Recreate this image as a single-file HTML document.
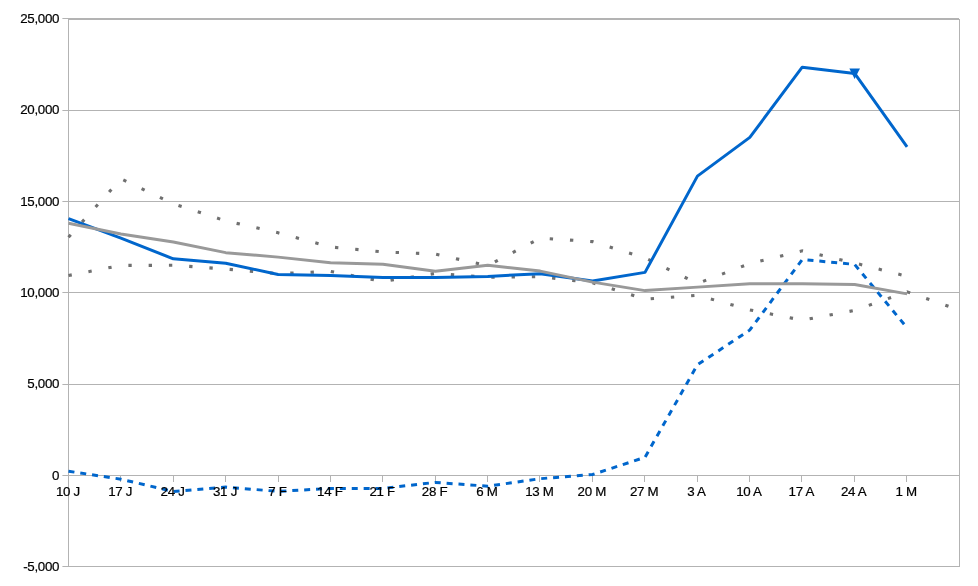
<!DOCTYPE html>
<html lang="en"><head><meta charset="utf-8"><title>Chart</title>
<style>
html,body{margin:0;padding:0;background:#fff;}
body{width:978px;height:586px;overflow:hidden;}
svg{display:block;}
text{font-family:"Liberation Sans",sans-serif;font-size:13.33px;fill:#000;letter-spacing:-0.3px;stroke:#000;stroke-width:0.2px;}
.g{fill:#b3b3b3;shape-rendering:crispEdges;}
</style></head><body>
<svg width="978" height="586" viewBox="0 0 978 586">
<rect width="978" height="586" fill="#fff"/>
<rect class="g" x="68" y="18" width="891" height="1"/>
<rect fill="#b3b3b3" x="62.4" y="18" width="6" height="1"/>
<rect class="g" x="68" y="110" width="892" height="1"/>
<rect fill="#b3b3b3" x="62.4" y="110" width="6" height="1"/>
<rect class="g" x="68" y="201" width="892" height="1"/>
<rect fill="#b3b3b3" x="62.4" y="201" width="6" height="1"/>
<rect class="g" x="68" y="292" width="892" height="1"/>
<rect fill="#b3b3b3" x="62.4" y="292" width="6" height="1"/>
<rect class="g" x="68" y="384" width="892" height="1"/>
<rect fill="#b3b3b3" x="62.4" y="384" width="6" height="1"/>
<rect class="g" x="68" y="475" width="892" height="1"/>
<rect fill="#b3b3b3" x="62.4" y="475" width="6" height="1"/>
<rect class="g" x="68" y="566" width="892" height="1"/>
<rect fill="#b3b3b3" x="62.4" y="566" width="6" height="1"/>
<rect class="g" x="68" y="19" width="892" height="1"/>
<rect class="g" x="959" y="19" width="1" height="548"/>
<rect class="g" x="68" y="18" width="1" height="549"/>
<rect class="g" x="120" y="475" width="1" height="7"/>
<rect class="g" x="173" y="475" width="1" height="7"/>
<rect class="g" x="225" y="475" width="1" height="7"/>
<rect class="g" x="278" y="475" width="1" height="7"/>
<rect class="g" x="330" y="475" width="1" height="7"/>
<rect class="g" x="382" y="475" width="1" height="7"/>
<rect class="g" x="435" y="475" width="1" height="7"/>
<rect class="g" x="487" y="475" width="1" height="7"/>
<rect class="g" x="539" y="475" width="1" height="7"/>
<rect class="g" x="592" y="475" width="1" height="7"/>
<rect class="g" x="644" y="475" width="1" height="7"/>
<rect class="g" x="697" y="475" width="1" height="7"/>
<rect class="g" x="749" y="475" width="1" height="7"/>
<rect class="g" x="801" y="475" width="1" height="7"/>
<rect class="g" x="854" y="475" width="1" height="7"/>
<rect class="g" x="906" y="475" width="1" height="7"/>
<polyline points="68.50,237.20 120.91,178.80 173.32,203.80 225.73,220.90 278.14,232.80 330.55,247.00 382.96,251.90 435.37,254.10 487.78,265.70 540.19,238.10 592.60,241.60 645.01,257.90 697.42,283.50 749.83,263.50 802.24,250.80 854.65,263.00 907.06,276.30" fill="none" stroke="#707070" stroke-width="3.1" stroke-dasharray="3.34 16.94"/>
<polyline points="68.50,275.50 120.91,265.40 173.32,265.30 225.73,269.00 278.14,273.60 330.55,271.40 382.96,281.50 435.37,273.40 487.78,277.30 540.19,276.70 592.60,282.80 645.01,299.20 697.42,295.20 749.83,309.90 802.24,320.20 854.65,310.40 907.06,291.80 959.47,310.10" fill="none" stroke="#707070" stroke-width="3.1" stroke-dasharray="3.34 16.94"/>
<polyline points="68.50,471.20 120.91,479.20 173.32,491.50 225.73,487.10 278.14,491.40 330.55,488.40 382.96,488.40 435.37,482.40 487.78,486.20 540.19,478.70 592.60,474.50 645.01,457.30 697.42,364.80 749.83,330.00 802.24,259.50 854.65,264.40 907.06,327.80" fill="none" stroke="#0066cc" stroke-width="2.98" stroke-dasharray="6 5.905"/>
<polyline points="68.50,218.60 120.91,238.22 173.32,258.80 225.73,263.30 278.14,274.49 330.55,275.39 382.96,277.40 435.37,277.40 487.78,276.39 540.19,273.71 592.60,280.96 645.01,272.39 697.42,176.11 749.83,137.40 802.24,67.20 854.65,73.40 907.06,146.92" fill="none" stroke="#0066cc" stroke-width="2.98" stroke-linejoin="round"/>
<polygon points="849.4,68.4 860.0,68.4 854.6,78.9" fill="#0066cc"/>
<polyline points="68.50,223.24 120.91,234.01 173.32,242.05 225.73,252.65 278.14,257.12 330.55,262.69 382.96,264.34 435.37,271.28 487.78,265.34 540.19,271.10 592.60,282.15 645.01,290.60 697.42,287.12 749.83,283.70 802.24,283.70 854.65,284.50 907.06,293.89" fill="none" stroke="#999999" stroke-width="2.98" stroke-linejoin="round"/>
<text x="59.2" y="23.2" text-anchor="end">25,000</text>
<text x="59.2" y="114.2" text-anchor="end">20,000</text>
<text x="59.2" y="206.2" text-anchor="end">15,000</text>
<text x="59.2" y="297.2" text-anchor="end">10,000</text>
<text x="59.2" y="388.2" text-anchor="end">5,000</text>
<text x="59.2" y="480.2" text-anchor="end">0</text>
<text x="59.2" y="571.2" text-anchor="end">-5,000</text>
<text x="67.9" y="495.9" text-anchor="middle">10 J</text>
<text x="120.2" y="495.9" text-anchor="middle">17 J</text>
<text x="172.6" y="495.9" text-anchor="middle">24 J</text>
<text x="225.0" y="495.9" text-anchor="middle">31 J</text>
<text x="277.4" y="495.9" text-anchor="middle">7 F</text>
<text x="329.8" y="495.9" text-anchor="middle">14 F</text>
<text x="382.2" y="495.9" text-anchor="middle">21 F</text>
<text x="434.6" y="495.9" text-anchor="middle">28 F</text>
<text x="487.0" y="495.9" text-anchor="middle">6 M</text>
<text x="539.4" y="495.9" text-anchor="middle">13 M</text>
<text x="591.8" y="495.9" text-anchor="middle">20 M</text>
<text x="644.1" y="495.9" text-anchor="middle">27 M</text>
<text x="696.5" y="495.9" text-anchor="middle">3 A</text>
<text x="748.9" y="495.9" text-anchor="middle">10 A</text>
<text x="801.3" y="495.9" text-anchor="middle">17 A</text>
<text x="853.7" y="495.9" text-anchor="middle">24 A</text>
<text x="906.1" y="495.9" text-anchor="middle">1 M</text>
</svg></body></html>
